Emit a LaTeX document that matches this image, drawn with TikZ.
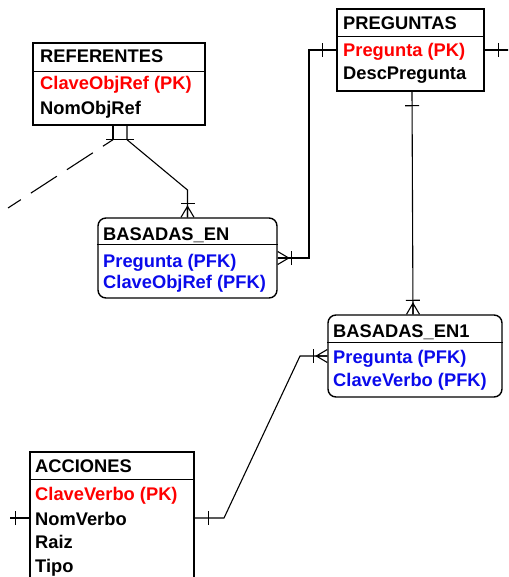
\documentclass[tikz,border=0pt]{standalone}
\usepackage{fontspec}
\setmainfont{Liberation Sans}
\usetikzlibrary{calc}
\definecolor{pkred}{RGB}{255,0,0}
\definecolor{fkblue}{RGB}{10,10,235}

\begin{document}
\begin{tikzpicture}[x=1pt, y=-1pt,
    entity/.style={draw, line width=1.4pt, inner sep=0pt},
    weak/.style={entity, rounded corners=8pt},
    field/.style={anchor=base west, inner sep=0pt,
      font=\fontsize{18.3}{20}\selectfont\bfseries},
    link/.style={line width=1.1pt},
    mark/.style={pos=#1, sloped, allow upside down},
    onemark/.pic={\draw[link] (14,-7) -- (14,7);},
    manymark/.pic={\draw[link] (-14,-7) -- (-14,7);
      \draw[link] (0,-6.5) -- (-11,0) -- (0,6.5) (-11,0) -- (0,0);}]
  \clip (0,0) rectangle (508,577);

  % REFERENTES
  \node[entity, minimum width=172pt, minimum height=82pt] (ref) at (119,84) {};
  \draw[line width=1.4pt] ([yshift=-29pt]ref.north west) -- ([yshift=-29pt]ref.north east);
  \node[field] (reft) at (40,63) {REFERENTES};
  \node[field, pkred] (refk) at (40,90) {ClaveObjRef (PK)};
  \node[field] (refn) at (40,115) {NomObjRef};

  % PREGUNTAS
  \node[entity, minimum width=147pt, minimum height=82pt] (preg) at (410.5,50) {};
  \draw[line width=1.4pt] ([yshift=-28pt]preg.north west) -- ([yshift=-28pt]preg.north east);
  \node[field] (pregt) at (343,30) {PREGUNTAS};
  \node[field, pkred] (pregk) at (343,57) {Pregunta (PK)};
  \node[field] (pregd) at (343,80) {DescPregunta};

  % BASADAS_EN
  \node[weak, minimum width=179pt, minimum height=80pt] (basen) at (187.5,258) {};
  \draw[line width=1.4pt] ([yshift=-27pt]basen.north west) -- ([yshift=-27pt]basen.north east);
  \node[field] (basent) at (103,240) {BASADAS\_EN};
  \node[field, fkblue] (basenp) at (103,267) {Pregunta (PFK)};
  \node[field, fkblue] (basenc) at (103,288) {ClaveObjRef (PFK)};

  % BASADAS_EN1
  \node[weak, minimum width=174pt, minimum height=82pt] (basen1) at (415,356) {};
  \draw[line width=1.4pt] ([yshift=-28pt]basen1.north west) -- ([yshift=-28pt]basen1.north east);
  \node[field] (basen1t) at (333,337) {BASADAS\_EN1};
  \node[field, fkblue] (basen1p) at (333,363) {Pregunta (PFK)};
  \node[field, fkblue] (basen1c) at (333,386) {ClaveVerbo (PFK)};

  % ACCIONES
  \node[entity, minimum width=164pt, minimum height=132pt] (acc) at (112,518) {};
  \draw[line width=1.4pt] ([yshift=-28pt]acc.north west) -- ([yshift=-28pt]acc.north east);
  \node[field] (acct) at (35,472) {ACCIONES};
  \node[field, pkred] (acck) at (35,500) {ClaveVerbo (PK)};
  \node[field] (accn) at (35,525) {NomVerbo};
  \node[field] (accr) at (35,548) {Raiz};
  \node[field] (acctp) at (35,572) {Tipo};

  % loose ends
  \coordinate (refout) at (8,208);
  \coordinate (pregout) at (512,50);
  \coordinate (accout) at (10,518);

  % relationships
  \draw[link] ([xshift=-6pt]ref.south) -- pic[mark=0]{onemark} ++(0,14) coordinate (refbend);
  \draw[link, dash pattern=on 31pt off 12pt, dash phase=19pt] (refbend) -- (refout);
  \draw[link] ([xshift=8pt]ref.south) -- pic[mark=0]{onemark} ++(0,14)
    -- (187.5,190) -- pic[mark=1]{manymark} (basen.north);
  \draw[link] (preg.west) -- pic[mark=0]{onemark} (309,50)
    -- (309,258) -- pic[mark=1]{manymark} (basen.east);
  \draw[link] (preg.east) -- pic[mark=0]{onemark} (pregout);
  \draw[link] ([xshift=1.5pt]preg.south) -- pic[mark=0]{onemark}
    pic[mark=1]{manymark} ([xshift=-2pt]basen1.north);
  \draw[link] (acc.east) -- pic[mark=0]{onemark} (224,518)
    -- (300,356) -- pic[mark=1]{manymark} (basen1.west);
  \draw[link] (acc.west) -- pic[mark=0]{onemark} (accout);
\end{tikzpicture}
\end{document}
